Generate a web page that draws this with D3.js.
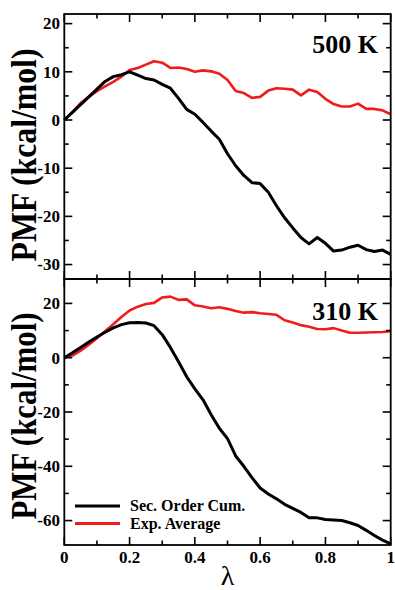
<!DOCTYPE html>
<html>
<head>
<meta charset="utf-8">
<script src="https://cdn.jsdelivr.net/npm/d3@7"></script>
<style>
  html, body { margin: 0; padding: 0; background: #fff; }
  svg { display: block; }
  text { font-family: "Liberation Serif", "Times New Roman", serif; font-weight: bold; fill: #000; }
</style>
</head>
<body>
<svg id="chart" width="395" height="590"></svg>
<script>
// λ grid shared by all curves
const lambda = d3.range(0, 41).map(i => +(i * 0.025).toFixed(3));

// 500 K
const cum500 = [0, 1.6, 3.2, 4.8, 6.4, 8.0, 9.0, 9.4, 10.0, 9.3, 8.6, 8.3, 7.4, 6.6, 4.5, 2.2, 1.2,
  -0.5, -2.3, -4.0, -7.0, -9.5, -11.5, -13.0, -13.2, -15.0, -17.8, -20.3, -22.4, -24.4, -25.7,
  -24.4, -25.6, -27.2, -27.0, -26.4, -26.0, -26.9, -27.3, -27.0, -27.9];
const exp500 = [0, 1.7, 3.5, 4.8, 6.0, 7.0, 7.9, 9.0, 10.4, 10.8, 11.5, 12.2, 11.9, 10.8, 10.9, 10.6,
  10.0, 10.3, 10.1, 9.6, 8.3, 6.0, 5.6, 4.6, 4.8, 6.1, 6.6, 6.5, 6.3, 5.1, 6.3, 5.8, 4.4, 3.3, 2.8,
  2.8, 3.4, 2.3, 2.3, 2.0, 1.2];

// 310 K
const cum310 = [0, 1.8, 3.8, 5.8, 7.6, 9.4, 11.0, 12.2, 12.9, 13.0, 12.8, 11.8, 8.5, 3.8, -1.5, -7.0,
  -11.5, -15.5, -21.0, -26.0, -29.8, -36.2, -40.0, -44.2, -48.0, -50.2, -52.0, -54.0, -55.5, -57.0,
  -59.0, -59.0, -59.6, -59.8, -60.0, -60.8, -61.8, -63.6, -65.5, -67.2, -68.6];
const exp310 = [0, 0.8, 2.6, 4.8, 7.2, 9.8, 12.3, 15.0, 17.4, 18.8, 19.8, 20.2, 22.2, 22.5, 21.3, 21.5,
  19.3, 18.9, 18.2, 18.6, 18.0, 17.2, 16.6, 16.8, 16.4, 16.1, 15.8, 13.8, 13.0, 12.0, 11.4, 10.6,
  10.5, 10.9, 10.0, 9.2, 9.2, 9.3, 9.4, 9.5, 9.8];

// axis ticks
const xMajor = [0, 0.2, 0.4, 0.6, 0.8, 1];
const xMinor = [0.1, 0.3, 0.5, 0.7, 0.9];
const yMajorTop = [-30, -20, -10, 0, 10, 20];
const yMinorTop = [-25, -15, -5, 5, 15];
const yMajorBot = [-60, -40, -20, 0, 20];
const yMinorBot = [-50, -30, -10, 10];

const seriesNames = ["Sec. Order Cum.", "Exp. Average"];
const seriesColors = ["#000000", "#ee1c1c"];

const svg = d3.select("#chart");
const left = 64.3, right = 390.7;
const x = d3.scaleLinear().domain([0, 1]).range([left, right]);

const panels = [
  { top: 14, bottom: 279, domain: [-33, 22], major: yMajorTop, minor: yMinorTop,
    series: [cum500, exp500], label: "500 K", labelY: 53, titleY: 155, titleLen: 213, showX: false },
  { top: 279, bottom: 545, domain: [-69, 29], major: yMajorBot, minor: yMinorBot,
    series: [cum310, exp310], label: "310 K", labelY: 320, titleY: 416, titleLen: 207, showX: true }
];

const majorLen = 8, minorLen = 4.5;

panels.forEach((p, pi) => {
  const y = d3.scaleLinear().domain(p.domain).range([p.bottom, p.top]);
  const g = svg.append("g");

  // curves (red under black)
  [1, 0].forEach(si => {
    const line = d3.line().x((d, i) => x(lambda[i])).y(d => y(d));
    g.append("path")
      .datum(p.series[si])
      .attr("d", line)
      .attr("fill", "none")
      .attr("stroke", seriesColors[si])
      .attr("stroke-width", si === 0 ? 3 : 2.6)
      .attr("stroke-linejoin", "round");
  });

  // frame
  g.append("rect")
    .attr("x", left).attr("y", p.top)
    .attr("width", right - left).attr("height", p.bottom - p.top)
    .attr("fill", "none").attr("stroke", "#000").attr("stroke-width", 1.8);

  const tickG = g.append("g").attr("stroke", "#000").attr("stroke-width", 1.6);
  // x ticks on bottom and top edges, pointing inward
  [[xMajor, majorLen], [xMinor, minorLen]].forEach(([vals, len]) => {
    vals.forEach(v => {
      tickG.append("line").attr("x1", x(v)).attr("x2", x(v))
        .attr("y1", p.bottom).attr("y2", p.bottom - len);
      tickG.append("line").attr("x1", x(v)).attr("x2", x(v))
        .attr("y1", p.top).attr("y2", p.top + len);
    });
  });
  // y ticks on left and right edges, pointing inward
  [[p.major, majorLen], [p.minor, minorLen]].forEach(([vals, len]) => {
    vals.forEach(v => {
      tickG.append("line").attr("y1", y(v)).attr("y2", y(v))
        .attr("x1", left).attr("x2", left + len);
      tickG.append("line").attr("y1", y(v)).attr("y2", y(v))
        .attr("x1", right).attr("x2", right - len);
    });
  });

  // y tick labels
  g.selectAll("text.ytl").data(p.major).enter().append("text")
    .attr("class", "ytl")
    .attr("x", 60).attr("y", d => y(d) + 5.8)
    .attr("text-anchor", "end")
    .style("font-size", "17px")
    .text(d => d);

  // y axis title
  g.append("text")
    .attr("transform", `translate(35.5,${p.titleY}) rotate(-90)`)
    .attr("text-anchor", "middle")
    .attr("textLength", p.titleLen)
    .attr("lengthAdjust", "spacingAndGlyphs")
    .style("font-size", "35px")
    .text("PMF (kcal/mol)");

  // temperature label
  g.append("text")
    .attr("x", 378).attr("y", p.labelY)
    .attr("text-anchor", "end")
    .style("font-size", "26px")
    .text(p.label);

  if (p.showX) {
    g.selectAll("text.xtl").data(xMajor).enter().append("text")
      .attr("class", "xtl")
      .attr("x", d => x(d)).attr("y", 562.5)
      .attr("text-anchor", "middle")
      .style("font-size", "17px")
      .text(d => d);

    g.append("text")
      .attr("x", (left + right) / 2).attr("y", 585)
      .attr("text-anchor", "middle")
      .style("font-size", "28px")
      .style("font-weight", "normal")
      .text("λ");

    // legend
    const legY = [506, 523.5];
    seriesNames.forEach((name, i) => {
      g.append("line")
        .attr("x1", 75).attr("x2", 120)
        .attr("y1", legY[i]).attr("y2", legY[i])
        .attr("stroke", seriesColors[i]).attr("stroke-width", 3);
      g.append("text")
        .attr("x", 130).attr("y", legY[i] + 5)
        .style("font-size", "16px")
        .text(name);
    });
  }
});
</script>
</body>
</html>
